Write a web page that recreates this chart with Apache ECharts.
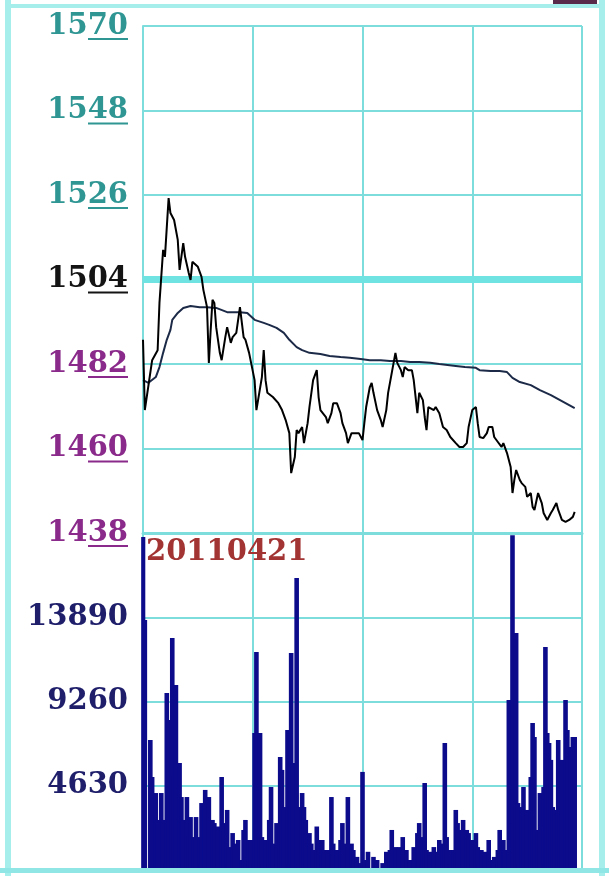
<!DOCTYPE html>
<html><head><meta charset="utf-8">
<script src="https://cdn.jsdelivr.net/npm/echarts@6/dist/echarts.min.js"></script>
<style>html,body{margin:0;padding:0;background:#fff}#c{width:609px;height:876px}</style>
</head><body><div id="c"></div>
<script>
const dateLabel = '20110421';
const refPrice = 1504;
const priceTicks = [1438, 1460, 1482, 1504, 1526, 1548, 1570];
const volumeTicks = [4630, 9260, 13890];
const priceMinutes = [0,1,3,5,8,9,11,12,14,15,17,19,20,22,23,25,26,27,30,32,33,35,36,37,38,39,40,42,43,45,46,48,49,51,53,55,56,58,61,62,63,65,66,67,68,71,72,74,76,78,80,81,83,84,85,87,88,90,91,93,95,96,97,100,101,103,104,106,108,109,111,112,114,116,118,120,121,122,124,125,126,128,130,131,133,134,136,137,138,139,141,142,143,145,147,148,150,151,153,154,155,156,159,160,162,164,166,168,171,173,175,177,178,180,182,183,184,186,188,189,191,192,194,196,197,199,201,202,203,204,206,207,209,210,212,213,214,216,218,219,221,223,224,226,227,229,231,233,235,236];
const prices = [1488.3,1470.0,1476.5,1483.0,1485.6,1497.9,1511.7,1509.9,1525.2,1521.3,1519.5,1514.3,1506.5,1513.5,1509.9,1505.7,1503.9,1508.6,1507.3,1504.7,1501.3,1496.8,1482.3,1490.9,1498.7,1497.9,1491.6,1484.9,1483.0,1489.0,1491.6,1487.5,1489.0,1490.1,1496.8,1489.0,1488.3,1484.9,1477.8,1470.0,1470.0,1478.6,1485.6,1477.8,1474.5,1473.4,1473.4,1471.8,1470.0,1467.4,1464.0,1453.6,1457.8,1464.8,1464.0,1465.6,1461.4,1466.6,1470.8,1477.8,1480.4,1473.4,1470.0,1468.2,1466.6,1469.2,1471.8,1471.8,1469.2,1466.6,1464.0,1461.4,1464.0,1464.0,1464.0,1462.2,1466.6,1470.8,1476.0,1477.1,1474.5,1470.0,1467.4,1465.6,1470.0,1474.5,1479.7,1482.3,1484.9,1482.3,1480.4,1478.6,1481.2,1480.4,1480.4,1477.8,1469.2,1474.5,1472.6,1468.2,1464.8,1470.8,1470.0,1470.8,1469.2,1465.6,1464.8,1463.0,1461.4,1460.4,1460.4,1461.4,1465.6,1470.0,1470.8,1466.6,1463.0,1462.7,1464.0,1465.6,1465.6,1463.0,1461.7,1460.4,1461.4,1458.8,1455.2,1448.4,1451.8,1454.4,1451.8,1451.0,1450.0,1447.4,1448.4,1444.8,1444.0,1448.4,1445.8,1443.2,1441.4,1443.2,1444.0,1445.8,1444.0,1441.4,1440.9,1441.4,1442.2,1443.5];
const avgMinutes = [0,3,7,9,11,13,15,16,19,22,26,31,35,40,46,53,57,61,66,69,73,77,80,84,87,91,97,102,108,113,119,124,130,135,141,146,151,157,162,171,176,182,184,190,195,199,202,206,212,217,223,228,233,236];
const avgPrices = [1477.8,1477.1,1478.6,1481.2,1484.9,1488.3,1490.9,1493.5,1495.3,1496.6,1497.1,1496.8,1496.8,1496.6,1495.5,1495.5,1495.3,1493.5,1492.7,1492.2,1491.4,1490.1,1488.3,1486.4,1485.6,1484.9,1484.6,1484.1,1483.8,1483.6,1483.3,1483.0,1483.0,1482.8,1482.8,1482.5,1482.5,1482.3,1482.0,1481.5,1481.2,1481.0,1480.4,1480.2,1480.2,1479.9,1478.4,1477.3,1476.5,1475.2,1473.9,1472.6,1471.3,1470.5];
const volMinutes = [0,1,4,5,7,8,10,11,13,14,16,17,18,20,21,22,24,25,26,28,29,31,32,34,36,38,39,41,43,44,46,47,49,50,52,54,55,56,58,59,61,62,64,65,67,69,70,71,73,75,76,77,79,80,81,82,84,85,87,88,89,91,92,93,95,96,98,99,101,103,104,106,108,109,110,112,114,115,117,119,120,121,123,126,128,131,133,135,136,138,140,142,144,146,148,150,151,153,154,155,157,159,161,162,164,165,166,168,170,171,172,174,175,177,178,180,182,183,185,187,189,191,192,194,195,197,198,200,201,202,204,205,207,208,210,212,213,214,216,217,219,220,221,222,223,224,225,227,228,229,231,232,234,235,236];
const volumes = [18300,13740,7145,5110,4230,2750,4230,2750,9730,8240,12750,5110,10170,5880,4010,2750,4010,1810,2910,1810,2910,1810,3680,4400,4010,2750,2580,2390,5110,2580,3300,1260,2030,1450,1650,550,2200,2750,1650,1650,7530,11980,7530,1810,1650,2750,4560,1450,2580,6210,5500,3460,7690,7690,11920,5880,16050,3460,4230,3460,2750,2030,1450,1100,2390,1650,1650,1100,1100,4010,1450,1100,1650,2580,1450,4010,1450,1100,720,380,5390,550,1000,720,550,380,1000,1100,2200,1260,1260,1810,1100,550,1260,2030,2580,1810,4780,1100,1000,1260,1000,1650,1450,6980,1810,1100,1100,3300,2580,2200,2750,2200,2030,1650,2030,1260,1100,1000,1650,550,720,1100,2200,1650,1100,9340,2580,18400,13030,3680,3460,4560,3300,5110,8080,7310,2200,4230,4560,12260,7530,6980,6050,3460,3300,7150,4780,6050,9340,7690,6760,7310,7310];

const GRID = '#7ddcdc';
const FONT = 'DejaVu Serif';
function priceColor(v) { v = Number(v); if (v > refPrice) return '#2f9694'; if (v === refPrice) return '#141414'; return '#8a2a8a'; }
const VOLCOL = '#1e1e6a';
const volMax = volumeTicks[2] + volumeTicks[0];

const chart = echarts.init(document.getElementById('c'), null, { renderer: 'canvas' });
const xBase = { type: 'value', min: 0, max: 240, interval: 60, axisLabel: { show: false }, axisTick: { show: false },
  axisLine: { show: true, lineStyle: { color: GRID, width: 3 } }, splitLine: { show: true, lineStyle: { color: GRID, width: 2 } } };
const option = {
  animation: false,
  backgroundColor: '#ffffff',
  grid: [{ left: 143, top: 26, width: 439, height: 507 }, { left: 143, top: 533, width: 439, height: 337 }],
  xAxis: [Object.assign({ gridIndex: 0 }, xBase), Object.assign({ gridIndex: 1 }, xBase)],
  yAxis: [
    { type: 'value', gridIndex: 0, min: priceTicks[0], max: priceTicks[priceTicks.length - 1], interval: 22,
      axisLine: { show: true, lineStyle: { color: GRID, width: 2 } }, axisTick: { show: false },
      splitLine: { show: true, lineStyle: { color: GRID, width: 2 } },
      axisLabel: { margin: 15, fontFamily: FONT, fontWeight: 'bold', fontSize: 29, color: priceColor,
        formatter: v => String(v) } },
    { type: 'value', gridIndex: 1, min: 0, max: volMax, interval: volumeTicks[0],
      axisLine: { show: true, lineStyle: { color: GRID, width: 2 } }, axisTick: { show: false },
      splitLine: { show: true, lineStyle: { color: GRID, width: 2 } },
      axisLabel: { margin: 15, fontFamily: FONT, fontWeight: 'bold', fontSize: 29, color: VOLCOL,
        formatter: v => (volumeTicks.indexOf(v) >= 0 ? String(v) : '') } }
  ],
  series: [
    { type: 'line', xAxisIndex: 0, yAxisIndex: 0, data: [[0, refPrice], [240, refPrice]], showSymbol: false, silent: true, z: 1,
      lineStyle: { color: '#6fe2e2', width: 7 } },
    { type: 'line', xAxisIndex: 0, yAxisIndex: 0, data: avgMinutes.map((m, i) => [m, avgPrices[i]]), showSymbol: false, z: 4,
      lineStyle: { color: '#1c2a48', width: 2 } },
    { type: 'line', xAxisIndex: 0, yAxisIndex: 0, data: priceMinutes.map((m, i) => [m, prices[i]]), showSymbol: false, z: 5,
      lineStyle: { color: '#000000', width: 2 } },
    { type: 'bar', xAxisIndex: 1, yAxisIndex: 1, data: volMinutes.map((m, i) => [m, volumes[i]]), barWidth: 4.6, z: 3,
      itemStyle: { color: '#0b0b8c' } }
  ]
};
chart.setOption(option);

const graphics = [
  { type: 'rect', shape: { x: 5, y: 0, width: 6, height: 876 }, style: { fill: '#a6eeec' }, z: 10 },
  { type: 'rect', shape: { x: 599, y: 0, width: 6, height: 876 }, style: { fill: '#a6eeec' }, z: 10 },
  { type: 'rect', shape: { x: 5, y: 4, width: 600, height: 4 }, style: { fill: '#a6eeec' }, z: 10 },
  { type: 'rect', shape: { x: 0, y: 868, width: 609, height: 5 }, style: { fill: '#8fe6e4' }, z: 10 },
  { type: 'rect', shape: { x: 553, y: 0, width: 44, height: 4 }, style: { fill: '#5a2a4a' }, z: 11 },
  { type: 'text', left: 146, top: 538, z: 12, style: { text: dateLabel, font: 'bold 29px "DejaVu Serif"', fill: '#a33434' } }
];
priceTicks.forEach(v => {
  const y = chart.convertToPixel({ yAxisIndex: 0 }, v);
  graphics.push({ type: 'rect', shape: { x: 88, y: y + 12, width: 40, height: 2 }, style: { fill: priceColor(v) }, z: 12 });
});
chart.setOption({ graphic: graphics });
</script></body></html>
